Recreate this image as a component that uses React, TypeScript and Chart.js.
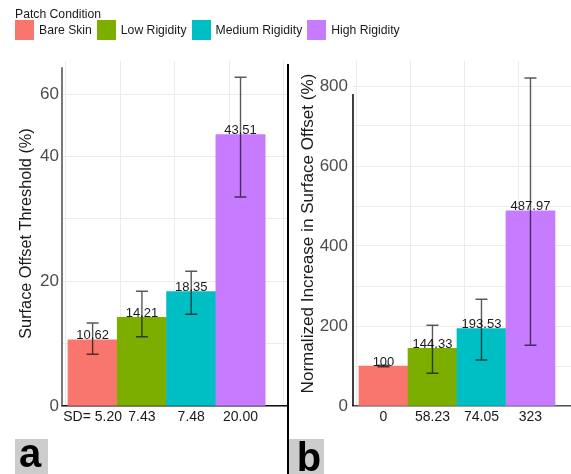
import React, { useEffect, useRef } from 'react';
import { Chart, registerables } from 'chart.js';

Chart.register(...registerables);

const FONT = '"Liberation Sans", Arial, Helvetica, sans-serif';

const categories = ['Bare Skin', 'Low Rigidity', 'Medium Rigidity', 'High Rigidity'];
const colors = ['#F8766D', '#7CAE00', '#00BFC4', '#C77CFF'];

// Panel a: surface offset threshold (%)
const thresholdValues = [10.62, 14.21, 18.35, 43.51];
const thresholdLow = [8.3, 11.1, 14.7, 33.5];
const thresholdHigh = [13.3, 18.4, 21.6, 52.7];
const thresholdSdLabels = ['SD= 5.20', '7.43', '7.48', '20.00'];
const thresholdGridValues = [0, 10, 20, 30, 40, 50];
const thresholdTickLabels = ['0', '', '20', '', '40', '60'];

// Panel b: normalized increase in surface offset (%)
const normalizedValues = [100, 144.33, 193.53, 487.97];
const normalizedLow = [98, 82, 115, 152];
const normalizedHigh = [102, 202, 267, 820];
const normalizedSdLabels = ['0', '58.23', '74.05', '323'];
const normalizedGridValues = [0, 100, 200, 300, 400, 500, 600, 700, 800];
const normalizedTickLabels = ['0', '', '200', '', '400', '', '600', '', '800'];

type PanelCfg = {
  values: number[];
  low: number[];
  high: number[];
  xLabels: string[];
  gridValues: number[];
  tickLabels: string[];
  yMax: number;
  axisTop: number;
  title: string;
  titleSize: number;
  titlePad: number;
  yWidth: number;
  tickPad: number;
  xMin: number;
  xMax: number;
  gMin: number;
  gMax: number;
  yLineColor: string;
  xLineColor: string;
};

const panelA: PanelCfg = {
  values: thresholdValues,
  low: thresholdLow,
  high: thresholdHigh,
  xLabels: thresholdSdLabels,
  gridValues: thresholdGridValues,
  tickLabels: thresholdTickLabels,
  yMax: 55.3,
  axisTop: 54.3,
  title: 'Surface Offset Threshold (%)',
  titleSize: 16.3,
  titlePad: 17,
  yWidth: 62,
  tickPad: 3,
  xMin: -0.621,
  xMax: 3.963,
  gMin: -0.569,
  gMax: 3.578,
  yLineColor: '#4d4d4d',
  xLineColor: '#111111',
};

const panelB: PanelCfg = {
  values: normalizedValues,
  low: normalizedLow,
  high: normalizedHigh,
  xLabels: normalizedSdLabels,
  gridValues: normalizedGridValues,
  tickLabels: normalizedTickLabels,
  yMax: 862.5,
  axisTop: 780,
  title: 'Normalized Increase in Surface Offset (%)',
  titleSize: 17.1,
  titlePad: 10,
  yWidth: 65,
  tickPad: 5,
  xMin: -0.622,
  xMax: 3.827,
  gMin: -0.556,
  gMax: 3.48,
  yLineColor: '#000000',
  xLineColor: '#555555',
};

function overlayPlugin(cfg: PanelCfg) {
  return {
    id: 'overlay',
    afterDatasetsDraw(chart: any) {
      const ctx = chart.ctx;
      const x = chart.scales.x;
      const y = chart.scales.y;
      ctx.save();
      // value labels
      ctx.fillStyle = '#1a1a1a';
      ctx.font = `13px ${FONT}`;
      ctx.textAlign = 'center';
      ctx.textBaseline = 'alphabetic';
      cfg.values.forEach((v, i) => {
        ctx.fillText(String(v), x.getPixelForValue(i), y.getPixelForValue(v) - 0.5);
      });
      // error bars
      ctx.strokeStyle = 'rgba(0,0,0,0.65)';
      ctx.lineWidth = 1.4;
      cfg.values.forEach((_, i) => {
        const px = x.getPixelForValue(i);
        const top = y.getPixelForValue(cfg.high[i]);
        const bot = y.getPixelForValue(cfg.low[i]);
        ctx.beginPath();
        ctx.moveTo(px, top);
        ctx.lineTo(px, bot);
        ctx.moveTo(px - 6, top);
        ctx.lineTo(px + 6, top);
        ctx.moveTo(px - 6, bot);
        ctx.lineTo(px + 6, bot);
        ctx.stroke();
      });
      // y axis line
      ctx.strokeStyle = cfg.yLineColor;
      ctx.lineWidth = 1.5;
      const ax = chart.chartArea.left;
      ctx.beginPath();
      ctx.moveTo(ax, y.getPixelForValue(cfg.axisTop));
      ctx.lineTo(ax, y.getPixelForValue(0));
      ctx.stroke();
      ctx.restore();
    },
  };
}

function Panel({ cfg, left, width }: { cfg: PanelCfg; left: number; width: number }) {
  const ref = useRef<HTMLCanvasElement | null>(null);
  useEffect(() => {
    if (!ref.current) return;
    const chart = new Chart(ref.current, {
      type: 'bar',
      data: {
        datasets: [
          {
            data: cfg.values.map((v, i) => ({ x: i, y: v })),
            backgroundColor: colors,
            borderWidth: 0,
            barPercentage: 1,
            categoryPercentage: 1,
            xAxisID: 'x',
            yAxisID: 'y',
          },
        ],
      },
      options: {
        animation: false,
        responsive: false,
        maintainAspectRatio: false,
        layout: { padding: { top: 61, right: 0, left: 0, bottom: 0 } },
        plugins: { legend: { display: false }, tooltip: { enabled: false } },
        scales: {
          x: {
            type: 'linear',
            position: 'bottom',
            min: cfg.xMin,
            max: cfg.xMax,
            offset: false,
            grid: { display: false, drawTicks: false },
            border: { display: true, color: cfg.xLineColor, width: 1.5 },
            afterBuildTicks: (s: any) => {
              s.ticks = cfg.xLabels.map((_, i) => ({ value: i }));
            },
            afterFit: (s: any) => {
              s.height = 68;
            },
            ticks: {
              autoSkip: false,
              maxRotation: 0,
              padding: 3,
              color: '#1a1a1a',
              font: { family: FONT, size: 14 },
              callback: (_v: any, i: number) => cfg.xLabels[i],
            },
          },
          xg: {
            type: 'linear',
            position: 'top',
            min: cfg.gMin,
            max: cfg.gMax,
            offset: false,
            grid: { display: true, color: '#ebebeb', lineWidth: 1, drawTicks: false },
            border: { display: false },
            ticks: { display: false },
            afterBuildTicks: (s: any) => {
              s.ticks = categories.map((_, i) => ({ value: i }));
            },
            afterFit: (s: any) => {
              s.height = 0;
            },
          },
          y: {
            type: 'linear',
            min: 0,
            max: cfg.yMax,
            grid: { color: '#ebebeb', lineWidth: 1, drawTicks: false },
            border: { display: false },
            afterBuildTicks: (s: any) => {
              s.ticks = cfg.gridValues.map((v) => ({ value: v }));
            },
            afterFit: (s: any) => {
              s.width = cfg.yWidth;
            },
            ticks: {
              padding: cfg.tickPad,
              color: '#4d4d4d',
              font: { family: FONT, size: 17 },
              callback: (_v: any, i: number) => cfg.tickLabels[i],
            },
            title: {
              display: true,
              text: cfg.title,
              color: '#1a1a1a',
              font: { family: FONT, size: cfg.titleSize },
              padding: { top: cfg.titlePad, bottom: 0 },
            },
          },
        },
      } as any,
      plugins: [overlayPlugin(cfg)],
    });
    return () => chart.destroy();
  }, [cfg]);
  return (
    <canvas
      ref={ref}
      width={width}
      height={474}
      style={{ position: 'absolute', left, top: 0, width, height: 474 }}
    />
  );
}

export default function App() {
  return (
    <div
      style={{
        position: 'fixed',
        left: 0,
        top: 0,
        width: 571,
        height: 474,
        background: '#ffffff',
        overflow: 'hidden',
        fontFamily: FONT,
        color: '#1a1a1a',
      }}
    >
      <Panel cfg={panelA} left={0} width={288} />
      <Panel cfg={panelB} left={288} width={283} />
      <div style={{ position: 'absolute', left: 15, top: 7, fontSize: 12.2, lineHeight: '14px' }}>
        Patch Condition
      </div>
      <div style={{ position: 'absolute', left: 15, top: 20, height: 20, display: 'flex', alignItems: 'center' }}>
        {categories.map((c, i) => (
          <div key={c} style={{ display: 'flex', alignItems: 'center', marginRight: 5 }}>
            <span style={{ display: 'inline-block', width: 19, height: 20, background: colors[i], marginRight: 5 }} />
            <span style={{ fontSize: 12.2, lineHeight: '14px', whiteSpace: 'nowrap' }}>{c}</span>
          </div>
        ))}
      </div>
      <div style={{ position: 'absolute', left: 287, top: 64, width: 2, height: 410, background: '#000' }} />
      <div style={{ position: 'absolute', left: 15, top: 439, width: 33, height: 35, background: '#cccccc' }} />
      <div style={{ position: 'absolute', left: 289, top: 439, width: 35, height: 35, background: '#cccccc' }} />
      <div
        style={{
          position: 'absolute',
          left: 10,
          top: 433,
          width: 40,
          textAlign: 'center',
          fontSize: 40,
          lineHeight: '40px',
          fontWeight: 'bold',
          color: '#000',
        }}
      >
        a
      </div>
      <div
        style={{
          position: 'absolute',
          left: 289,
          top: 437,
          width: 40,
          textAlign: 'center',
          fontSize: 40,
          lineHeight: '40px',
          fontWeight: 'bold',
          color: '#000',
        }}
      >
        b
      </div>
    </div>
  );
}
